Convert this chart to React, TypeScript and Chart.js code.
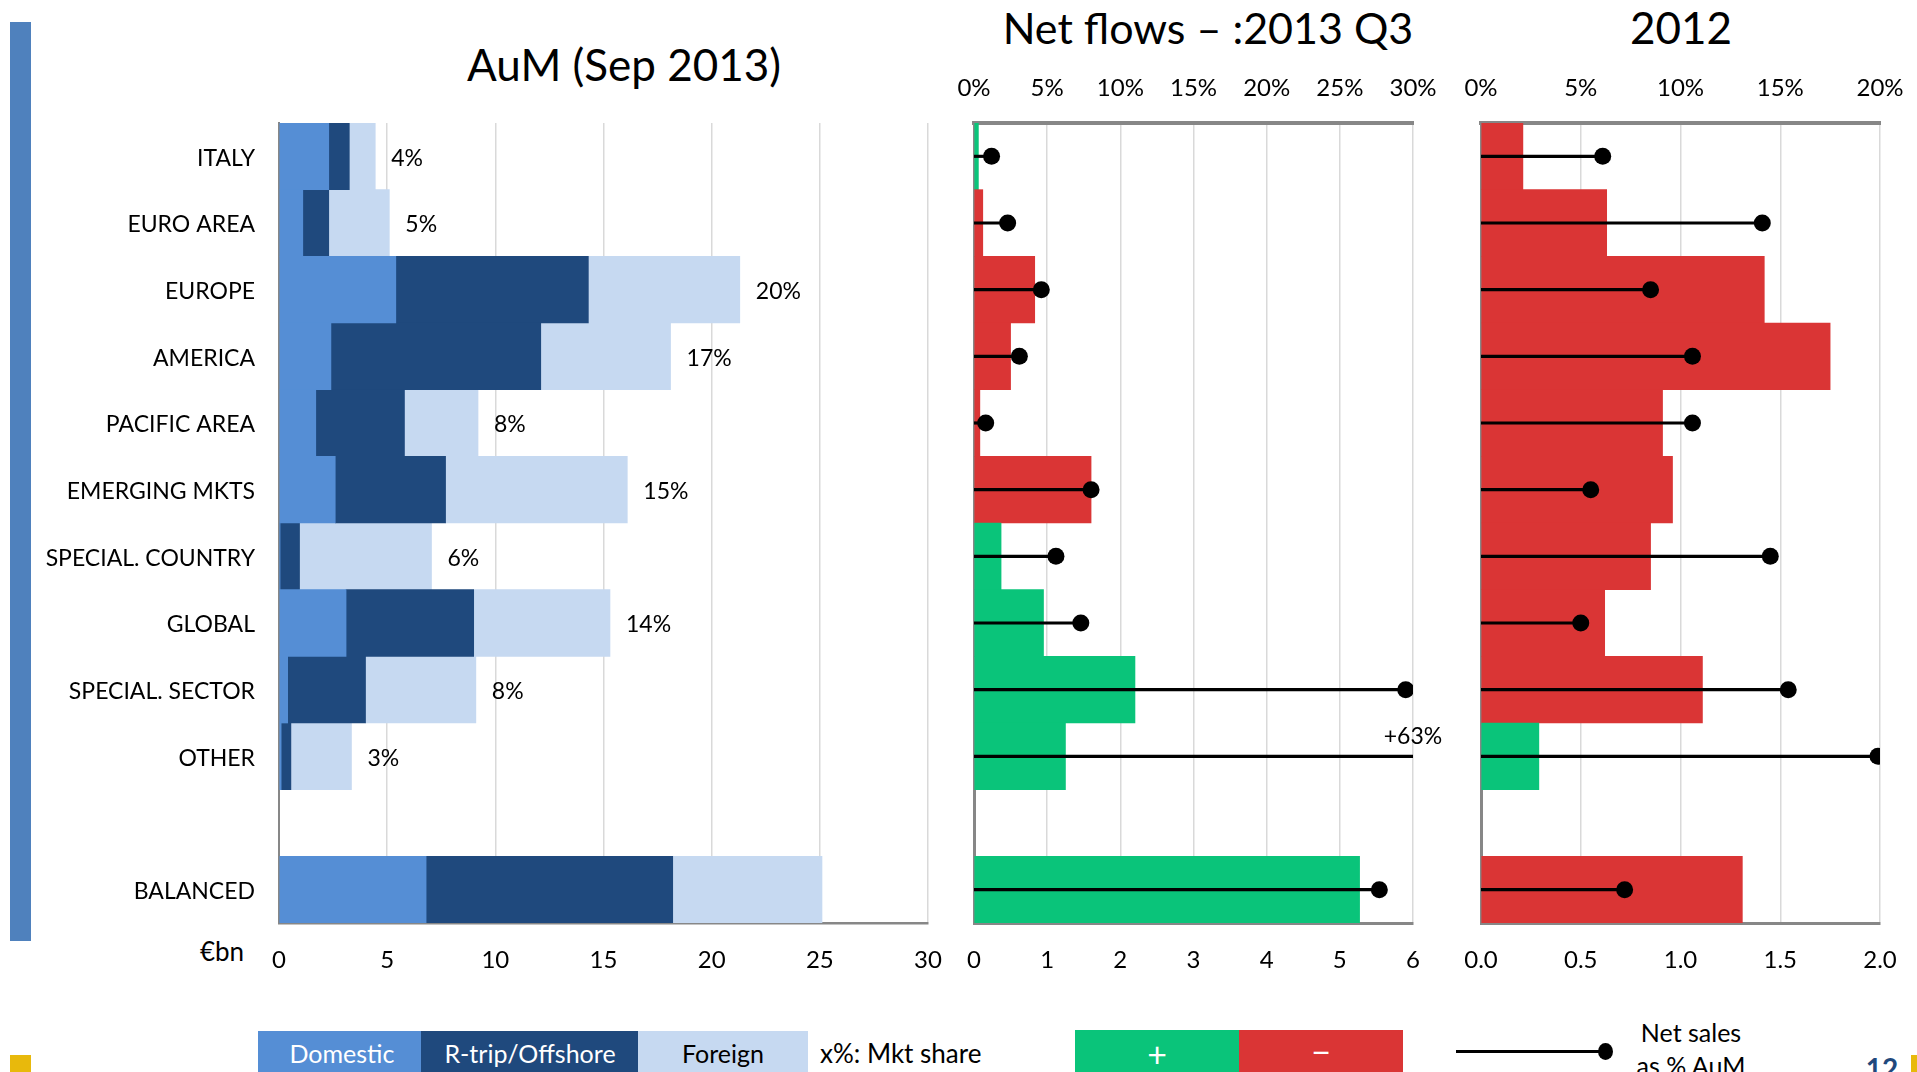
import React, { useEffect, useRef } from "react";
import { Chart, registerables } from "chart.js";

Chart.register(...registerables);

const FONT = "Lato, 'Open Sans', sans-serif";

// ---------- data ----------
const categories = [
  "ITALY",
  "EURO AREA",
  "EUROPE",
  "AMERICA",
  "PACIFIC AREA",
  "EMERGING MKTS",
  "SPECIAL. COUNTRY",
  "GLOBAL",
  "SPECIAL. SECTOR",
  "OTHER",
  "",
  "BALANCED",
];

// AuM, €bn (Sep 2013)
const aumDomestic = [2.3, 1.1, 5.4, 2.4, 1.7, 2.6, 0.05, 3.1, 0.4, 0.1, null, 6.8];
const aumOffshore = [0.95, 1.2, 8.9, 9.7, 4.1, 5.1, 0.9, 5.9, 3.6, 0.45, null, 11.4];
const aumForeign = [1.2, 2.8, 7.0, 6.0, 3.4, 8.4, 6.1, 6.3, 5.1, 2.8, null, 6.9];
const mktShare = ["4%", "5%", "20%", "17%", "8%", "15%", "6%", "14%", "8%", "3%", "", ""];

// Net flows 2013 Q3, €bn (sign gives colour) and net sales as % AuM
const flows2013Q3 = [0.06, -0.12, -0.83, -0.5, -0.08, -1.6, 0.37, 0.95, 2.2, 1.25, null, 5.27];
const netSales2013Q3 = [1.2, 2.3, 4.6, 3.1, 0.8, 8.0, 5.6, 7.3, 29.5, 63, null, 27.7];

// Net flows 2012, €bn and net sales as % AuM
const flows2012 = [-0.21, -0.63, -1.42, -1.75, -0.91, -0.96, -0.85, -0.62, -1.11, 0.29, null, -1.31];
const netSales2012 = [6.1, 14.1, 8.5, 10.6, 10.6, 5.5, 14.5, 5.0, 15.4, 19.9, null, 7.2];

// axis ranges
const aumAxis = { min: 0, max: 30, step: 5 };
const q3Axis = { min: 0, max: 6, step: 1, pctMax: 30, pctStep: 5, decimals: 0 };
const y2012Axis = { min: 0, max: 2, step: 0.5, pctMax: 20, pctStep: 5, decimals: 1 };

// ---------- styles ----------
const GRID = "#D9D9D9";
const AXIS = "#878787";
const C_DOM = "#558ED5";
const C_OFF = "#1F497D";
const C_FOR = "#C6D9F1";
const C_POS = "#0AC47A";
const C_NEG = "#DA3535";
const TICK_FONT = { size: 24, family: FONT };

Chart.defaults.font.family = FONT;
Chart.defaults.color = "#000";

const mktSharePlugin = {
  id: "mktShare",
  afterDatasetsDraw(chart: any) {
    const { ctx } = chart;
    const x = chart.scales.x;
    const y = chart.scales.y;
    ctx.save();
    ctx.font = `23px ${FONT}`;
    ctx.fillStyle = "#000";
    ctx.textAlign = "left";
    ctx.textBaseline = "middle";
    mktShare.forEach((lbl, i) => {
      if (!lbl) return;
      const total = (aumDomestic[i] ?? 0) + (aumOffshore[i] ?? 0) + (aumForeign[i] ?? 0);
      ctx.fillText(lbl, x.getPixelForValue(total) + 16, y.getPixelForValue(i) + 2);
    });
    ctx.restore();
  },
};

const overflowPlugin = {
  id: "overflowLabel",
  afterDatasetsDraw(chart: any) {
    const { ctx } = chart;
    const x2 = chart.scales.x2;
    const y = chart.scales.y;
    const vals: (number | null)[] = chart.data.datasets[0].data;
    ctx.save();
    ctx.font = `23px ${FONT}`;
    ctx.fillStyle = "#000";
    ctx.textAlign = "center";
    ctx.textBaseline = "middle";
    vals.forEach((v, i) => {
      if (v == null || v <= x2.max) return;
      ctx.fillText(`+${v}%`, x2.getPixelForValue(x2.max), y.getPixelForValue(i) - 20);
    });
    ctx.restore();
  },
};

function aumConfig(): any {
  return {
    type: "bar",
    data: {
      labels: categories,
      datasets: [
        { label: "Domestic", data: aumDomestic, backgroundColor: C_DOM },
        { label: "R-trip/Offshore", data: aumOffshore, backgroundColor: C_OFF },
        { label: "Foreign", data: aumForeign, backgroundColor: C_FOR },
      ],
    },
    options: {
      indexAxis: "y",
      responsive: false,
      maintainAspectRatio: false,
      animation: false,
      devicePixelRatio: 1,
      events: [],
      layout: { padding: { left: 0, right: 52, top: 123, bottom: 0 } },
      datasets: { bar: { barPercentage: 1, categoryPercentage: 1 } },
      plugins: { legend: { display: false }, tooltip: { enabled: false } },
      scales: {
        x: {
          stacked: true,
          min: aumAxis.min,
          max: aumAxis.max,
          ticks: { stepSize: aumAxis.step, padding: 23, font: TICK_FONT, color: "#000" },
          grid: { color: GRID, lineWidth: 1.5, drawTicks: false },
          border: { display: true, color: AXIS, width: 2.5 },
          afterFit: (s: any) => {
            s.height = 77;
          },
        },
        y: {
          stacked: true,
          ticks: { padding: 24, labelOffset: 2, font: { size: 23, family: FONT }, color: "#000", autoSkip: false },
          grid: { display: false, drawTicks: false },
          border: { display: true, color: AXIS, width: 2 },
          afterFit: (s: any) => {
            s.width = 279;
          },
        },
      },
    },
    plugins: [mktSharePlugin],
  };
}

function flowsConfig(
  flows: (number | null)[],
  netSales: (number | null)[],
  ax: { min: number; max: number; step: number; pctMax: number; pctStep: number; decimals: number },
  yWidth: number,
  padRight: number
): any {
  return {
    type: "bar",
    data: {
      labels: categories,
      datasets: [
        {
          type: "line",
          data: netSales,
          xAxisID: "x2",
          yAxisID: "y",
          indexAxis: "y",
          showLine: false,
          pointRadius: 8.5,
          pointHoverRadius: 8.5,
          pointBackgroundColor: "#000",
          pointBorderWidth: 0,
          borderColor: "#000",
          order: 1,
          clip: 0,
        },
        {
          type: "bar",
          data: netSales,
          xAxisID: "x2",
          yAxisID: "y",
          indexAxis: "y",
          barThickness: 2.5,
          backgroundColor: "#000",
          grouped: false,
          order: 2,
          clip: 0,
        },
        {
          type: "bar",
          data: flows.map((v) => (v == null ? null : Math.abs(v))),
          backgroundColor: flows.map((v) => (v != null && v < 0 ? C_NEG : C_POS)),
          xAxisID: "x",
          yAxisID: "y",
          indexAxis: "y",
          barPercentage: 1,
          categoryPercentage: 1,
          grouped: false,
          order: 3,
          clip: 0,
        },
      ],
    },
    options: {
      indexAxis: "y",
      responsive: false,
      maintainAspectRatio: false,
      animation: false,
      devicePixelRatio: 1,
      events: [],
      layout: { padding: { left: 0, right: padRight, top: 60, bottom: 0 } },
      plugins: { legend: { display: false }, tooltip: { enabled: false } },
      scales: {
        x: {
          type: "linear",
          position: "bottom",
          min: ax.min,
          max: ax.max,
          ticks: {
            stepSize: ax.step,
            padding: 23,
            font: TICK_FONT,
            color: "#000",
            callback: (v: any) => Number(v).toFixed(ax.decimals),
          },
          grid: { color: GRID, lineWidth: 1.5, drawTicks: false },
          border: { display: true, color: AXIS, width: 3 },
          afterFit: (s: any) => {
            s.height = 77;
          },
        },
        x2: {
          type: "linear",
          axis: "x",
          position: "top",
          min: 0,
          max: ax.pctMax,
          ticks: {
            stepSize: ax.pctStep,
            padding: 20,
            font: TICK_FONT,
            color: "#000",
            callback: (v: any) => `${v}%`,
          },
          grid: { display: false, drawTicks: false },
          border: { display: true, color: AXIS, width: 4 },
          afterFit: (s: any) => {
            s.height = 63;
          },
        },
        y: {
          type: "category",
          position: "left",
          ticks: { display: false },
          grid: { display: false, drawTicks: false },
          border: { display: true, color: AXIS, width: 3 },
          afterFit: (s: any) => {
            s.width = yWidth;
          },
        },
      },
    },
    plugins: [overflowPlugin],
  };
}

const centerText = (x: number, y: number, size: number, extra: any = {}): any => ({
  position: "absolute",
  left: x,
  top: y,
  transform: "translate(-50%, -50%)",
  whiteSpace: "nowrap",
  fontFamily: FONT,
  fontSize: size,
  lineHeight: 1,
  color: "#000",
  ...extra,
});

const box = (left: number, top: number, width: number, height: number, bg: string): any => ({
  position: "absolute",
  left,
  top,
  width,
  height,
  background: bg,
});

export default function App() {
  const ref1 = useRef<HTMLCanvasElement | null>(null);
  const ref2 = useRef<HTMLCanvasElement | null>(null);
  const ref3 = useRef<HTMLCanvasElement | null>(null);

  useEffect(() => {
    const charts: Chart[] = [];
    if (ref1.current) charts.push(new Chart(ref1.current, aumConfig()));
    if (ref2.current) charts.push(new Chart(ref2.current, flowsConfig(flows2013Q3, netSales2013Q3, q3Axis, 54, 47)));
    if (ref3.current) charts.push(new Chart(ref3.current, flowsConfig(flows2012, netSales2012, y2012Axis, 41, 60)));
    return () => charts.forEach((c) => c.destroy());
  }, []);

  return (
    <div
      style={{
        position: "absolute",
        left: 0,
        top: 0,
        width: 1917,
        height: 1072,
        overflow: "hidden",
        background: "#fff",
        fontFamily: FONT,
      }}
    >
      {/* decorative bars */}
      <div style={box(10, 22, 21, 919, "#4F81BD")} />
      <div style={box(10, 1055, 21, 17, "#E8B90C")} />
      <div style={box(1911, 1055, 6, 17, "#E8B90C")} />

      {/* titles */}
      <div style={centerText(624, 64, 44)}>AuM (Sep 2013)</div>
      <div style={centerText(1208, 27, 43)}>Net flows – :2013 Q3</div>
      <div style={centerText(1681, 27, 44)}>2012</div>
      <div style={centerText(222, 951, 26)}>€bn</div>

      <canvas ref={ref1} width={980} height={1000} style={{ position: "absolute", left: 0, top: 0, width: 980, height: 1000 }} />
      <canvas ref={ref2} width={540} height={1000} style={{ position: "absolute", left: 920, top: 0, width: 540, height: 1000 }} />
      <canvas ref={ref3} width={500} height={1000} style={{ position: "absolute", left: 1440, top: 0, width: 500, height: 1000 }} />

      {/* legend */}
      <div style={box(258, 1031, 163, 45, C_DOM)} />
      <div style={box(421, 1031, 217, 45, C_OFF)} />
      <div style={box(638, 1031, 170, 45, C_FOR)} />
      <div style={centerText(342, 1053, 25, { color: "#fff" })}>Domestic</div>
      <div style={centerText(530, 1053, 25, { color: "#fff" })}>R-trip/Offshore</div>
      <div style={centerText(723, 1053, 25)}>Foreign</div>
      <div style={{ ...centerText(820, 1053, 26), transform: "translate(0, -50%)" }}>x%: Mkt share</div>

      <div style={box(1075, 1030, 164, 45, C_POS)} />
      <div style={box(1239, 1030, 164, 45, C_NEG)} />
      <div style={centerText(1157, 1054, 34, { color: "#fff" })}>+</div>
      <div style={centerText(1321, 1052, 34, { color: "#fff" })}>−</div>

      <div style={box(1456, 1050, 150, 3, "#000")} />
      <div
        style={{
          position: "absolute",
          left: 1598,
          top: 1043,
          width: 15,
          height: 17,
          borderRadius: "50%",
          background: "#000",
        }}
      />
      <div style={centerText(1691, 1032, 25)}>Net sales</div>
      <div style={centerText(1691, 1065, 25)}>as % AuM</div>
      <div style={centerText(1882, 1068, 28, { color: "#1F497D", fontWeight: 700 })}>12</div>
    </div>
  );
}
